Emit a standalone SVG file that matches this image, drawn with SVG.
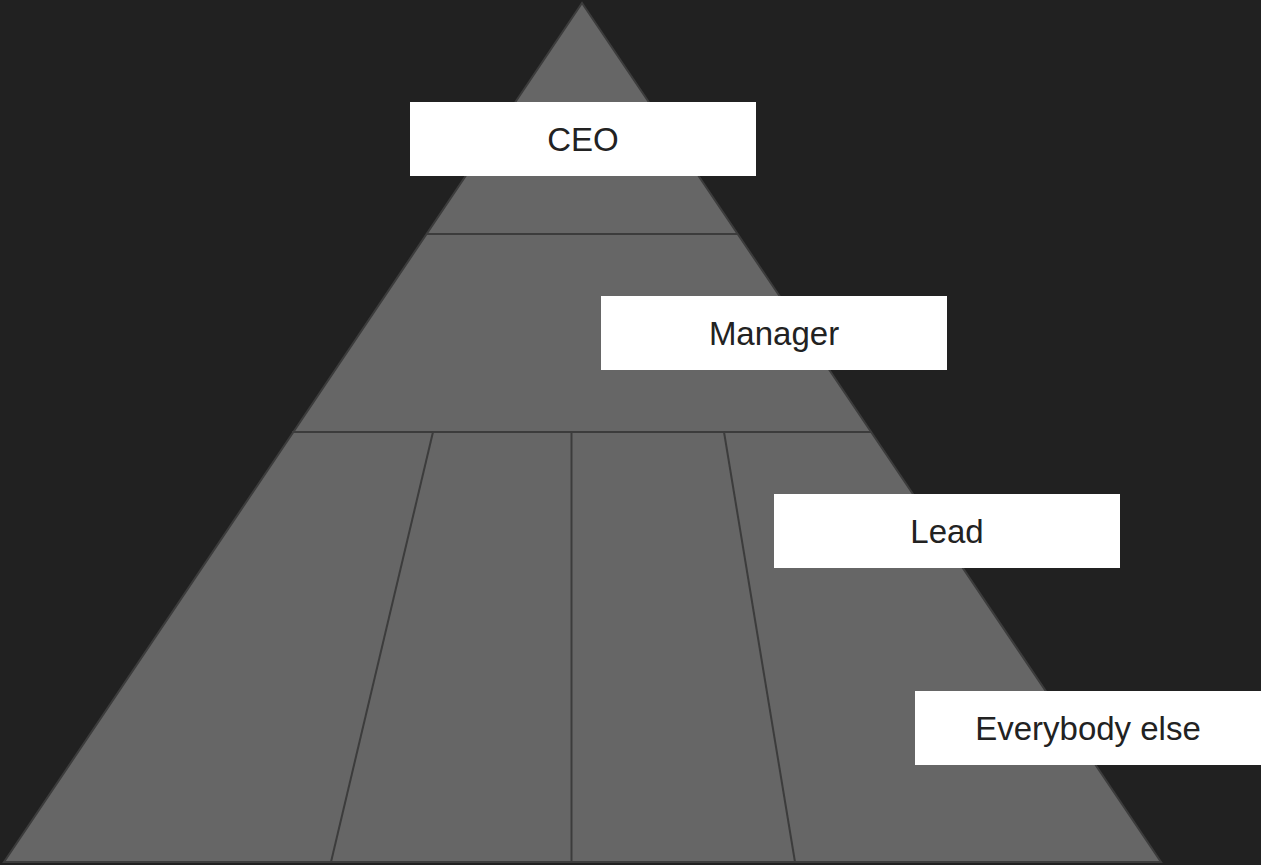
<svg xmlns="http://www.w3.org/2000/svg" width="1261" height="865" viewBox="0 0 1261 865">
<style>
.tri{fill:#666666;stroke:#3c3c3c;stroke-width:2;stroke-linejoin:miter}
.div{stroke:#3c3c3c;stroke-width:2;fill:none}
.box{fill:#ffffff}
.lbl{font-family:"Liberation Sans",Arial,sans-serif;font-size:33px;fill:#222222;text-anchor:middle}
</style>
<rect x="0" y="0" width="1261" height="865" fill="#212121"/>
<g id="pyramid">
<polygon class="tri" points="582,3 4,862 1161,862"/>
</g>
<g id="connectors">
<line class="div" x1="426" y1="234" x2="738" y2="234"/>
<line class="div" x1="292" y1="432" x2="872" y2="432"/>
<line class="div" x1="433" y1="432" x2="331" y2="862"/>
<line class="div" x1="571.5" y1="432" x2="571.5" y2="862"/>
<line class="div" x1="724" y1="432" x2="795" y2="862"/>
</g>
<g id="ceo">
<rect class="box" x="410" y="102" width="346" height="74"/>
<text class="lbl" x="583" y="151">CEO</text>
</g>
<g id="manager">
<rect class="box" x="601" y="296" width="346" height="74"/>
<text class="lbl" x="774" y="345">Manager</text>
</g>
<g id="lead">
<rect class="box" x="774" y="494" width="346" height="74"/>
<text class="lbl" x="947" y="543">Lead</text>
</g>
<g id="everybody">
<rect class="box" x="915" y="691" width="346" height="74"/>
<text class="lbl" x="1088" y="740">Everybody else</text>
</g>
</svg>
